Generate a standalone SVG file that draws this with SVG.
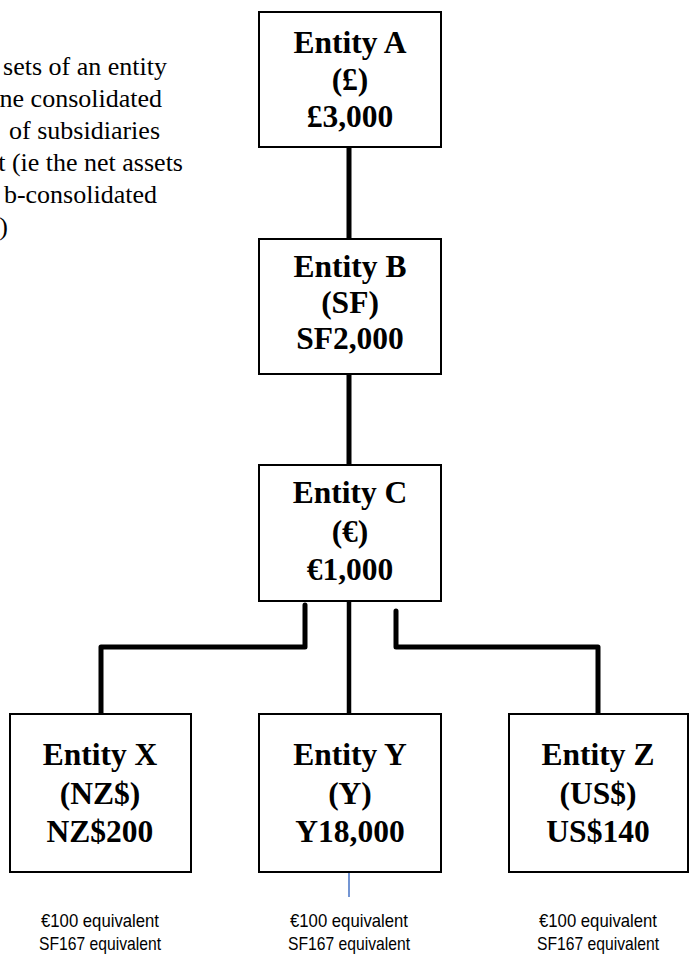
<svg xmlns="http://www.w3.org/2000/svg" width="689" height="962" viewBox="0 0 689 962">
<style>
.box{fill:#fff;stroke:#000;stroke-width:2}
.bt{font-family:"Liberation Serif","Times New Roman",serif;font-weight:bold;font-size:31.5px;text-anchor:middle;fill:#000}
.note{font-family:"Liberation Serif","Times New Roman",serif;font-size:26px;text-anchor:end;fill:#000}
.lab{font-family:"Liberation Sans",Arial,sans-serif;font-size:19px;text-anchor:middle;fill:#000}
.con{fill:none;stroke:#000;stroke-width:5;stroke-linecap:round;stroke-linejoin:round}
</style>
<rect width="689" height="962" fill="#fff"/>
<g id="note">
<text class="note" x="167" y="75">sets of an entity</text>
<text class="note" x="162" y="107">ne consolidated</text>
<text class="note" x="160" y="139">of subsidiaries</text>
<text class="note" x="183" y="171">t (ie the net assets</text>
<text class="note" x="157" y="203">b-consolidated</text>
<text class="note" x="8" y="235">)</text>
</g>
<g id="connectors">
<path class="con" d="M349,147 V238"/>
<path class="con" d="M349,374 V465"/>
<path class="con" d="M349,601 V714" style="stroke-width:4.5"/>
<path class="con" d="M305,605 V647 H101 V714"/>
<path class="con" d="M396,611 V647 H598 V714"/>
<path d="M349,872 V897" stroke="#4472C4" stroke-width="1.5" fill="none"/>
</g>
<g id="entityA">
<rect class="box" x="259" y="12" width="182" height="135"/>
<text class="bt" x="350" y="53">Entity A</text>
<text class="bt" x="350" y="90">(£)</text>
<text class="bt" x="350" y="127">£3,000</text>
</g>
<g id="entityB">
<rect class="box" x="259" y="239" width="182" height="135"/>
<text class="bt" x="350" y="277">Entity B</text>
<text class="bt" x="350" y="313">(SF)</text>
<text class="bt" x="350" y="349">SF2,000</text>
</g>
<g id="entityC">
<rect class="box" x="259" y="465" width="182" height="136"/>
<text class="bt" x="350" y="503">Entity C</text>
<text class="bt" x="350" y="542">(€)</text>
<text class="bt" x="350" y="580">€1,000</text>
</g>
<g id="entityX">
<rect class="box" x="10" y="714" width="181" height="158"/>
<text class="bt" x="100" y="765">Entity X</text>
<text class="bt" x="100" y="804">(NZ$)</text>
<text class="bt" x="100" y="842">NZ$200</text>
</g>
<g id="entityY">
<rect class="box" x="259" y="714" width="182" height="158"/>
<text class="bt" x="350" y="765">Entity Y</text>
<text class="bt" x="350" y="804">(Y)</text>
<text class="bt" x="350" y="842">Y18,000</text>
</g>
<g id="entityZ">
<rect class="box" x="509" y="714" width="179" height="158"/>
<text class="bt" x="598" y="765">Entity Z</text>
<text class="bt" x="598" y="804">(US$)</text>
<text class="bt" x="598" y="842">US$140</text>
</g>
<g id="labels">
<text class="lab" x="100" y="927" textLength="118" lengthAdjust="spacingAndGlyphs">€100 equivalent</text>
<text class="lab" x="100" y="950" textLength="122" lengthAdjust="spacingAndGlyphs">SF167 equivalent</text>
<text class="lab" x="349" y="927" textLength="118" lengthAdjust="spacingAndGlyphs">€100 equivalent</text>
<text class="lab" x="349" y="950" textLength="122" lengthAdjust="spacingAndGlyphs">SF167 equivalent</text>
<text class="lab" x="598" y="927" textLength="118" lengthAdjust="spacingAndGlyphs">€100 equivalent</text>
<text class="lab" x="598" y="950" textLength="122" lengthAdjust="spacingAndGlyphs">SF167 equivalent</text>
</g>
</svg>
